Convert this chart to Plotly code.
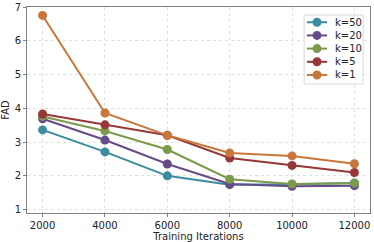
import plotly.graph_objects as go

iterations = [2000, 4000, 6000, 8000, 10000, 12000]
tick_labels = ["2000", "4000", "6000", "8000", "10000", "12000"]
labels = ["k=50", "k=20", "k=10", "k=5", "k=1"]
fad_k50 = [3.36, 2.71, 2.00, 1.74, 1.75, 1.79]
fad_k20 = [3.69, 3.06, 2.35, 1.76, 1.69, 1.71]
fad_k10 = [3.76, 3.33, 2.78, 1.90, 1.76, 1.78]
fad_k5 = [3.83, 3.51, 3.20, 2.53, 2.31, 2.10]
fad_k1 = [6.75, 3.86, 3.20, 2.68, 2.59, 2.36]
colors = ["#3a8c9e", "#654b87", "#7c9a4c", "#963838", "#c8773a"]

series = [fad_k50, fad_k20, fad_k10, fad_k5, fad_k1]

fig = go.Figure()
for name, vals, c in zip(labels, series, colors):
    fig.add_trace(go.Scatter(x=iterations, y=vals, name=name, mode="lines+markers",
                             line=dict(color=c, width=2),
                             marker=dict(color=c, size=9), showlegend=False))

# compact legend (matplotlib-like)
shapes = [dict(type="rect", xref="paper", yref="paper", x0=0.808, x1=0.980,
               y0=0.626, y1=0.961, line=dict(color="#d8d8d8", width=1),
               fillcolor="rgba(255,255,255,0.85)", layer="above")]
annotations = []
for i, (name, c) in enumerate(zip(labels, colors)):
    yy = 0.926 - i * 0.064
    shapes.append(dict(type="line", xref="paper", yref="paper", x0=0.816, x1=0.875,
                       y0=yy, y1=yy, line=dict(color=c, width=2), layer="above"))
    shapes.append(dict(type="circle", xref="paper", yref="paper", xsizemode="pixel",
                       ysizemode="pixel", xanchor=0.8455, yanchor=yy, x0=-4.5, x1=4.5,
                       y0=-4.5, y1=4.5, fillcolor=c, line=dict(color=c, width=0),
                       layer="above"))
    annotations.append(dict(xref="paper", yref="paper", x=0.893, y=yy, text=name,
                            showarrow=False, xanchor="left", yanchor="middle",
                            font=dict(size=10, color="#222")))

axis_common = dict(showline=True, linecolor="#808080", linewidth=1, mirror=True,
                   showgrid=True, gridcolor="#e0e0e0", griddash="dot", gridwidth=1,
                   zeroline=False, ticks="outside", ticklen=3, tickcolor="#808080",
                   tickfont=dict(size=10, color="#222"), automargin=False)

fig.update_layout(
    width=374, height=242,
    margin=dict(l=27, r=4, t=7, b=29),
    paper_bgcolor="white", plot_bgcolor="white",
    font=dict(family="DejaVu Sans", size=10, color="#222"),
    xaxis=dict(range=[1500, 12500], tickvals=iterations, ticktext=tick_labels,
               title=dict(text="Training Iterations", standoff=2, font=dict(size=10)),
               **axis_common),
    yaxis=dict(range=[0.9, 7.0], tickvals=[1, 2, 3, 4, 5, 6, 7],
               title=dict(text="FAD", standoff=4, font=dict(size=10)),
               **axis_common),
    shapes=shapes,
    annotations=annotations,
    showlegend=False,
)

fig.write_html("out.html", config={"displayModeBar": False},
               post_script="document.body.style.margin='0';document.body.style.padding='0';")
